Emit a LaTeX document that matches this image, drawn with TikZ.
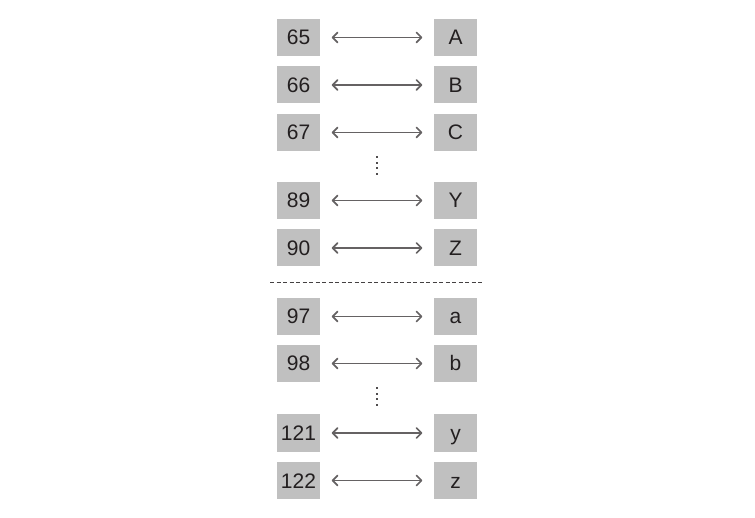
\documentclass[tikz,border=0pt]{standalone}
\usepackage{fontspec}
\setmainfont{Liberation Sans}
\usetikzlibrary{arrows.meta}
\definecolor{boxgray}{HTML}{C0C0C0}
\definecolor{ink}{HTML}{231F20}
\begin{document}
\begin{tikzpicture}[x=1pt,y=-1pt,
  cell/.style={fill=boxgray,draw=none,minimum width=43pt,minimum height=37pt,inner sep=0pt,
    text height=15pt,text depth=0pt,
    font=\fontsize{21}{21}\selectfont,text=ink},
  link/.style={draw=ink!70,line width=1.7pt,{Straight Barb[length=5pt,width=10pt,round]}-{Straight Barb[length=5pt,width=10pt,round]}},
  dotcol/.style={fill=ink!80}]
\useasboundingbox (0,0) rectangle (755,518);
\foreach \n/\l/\r/\y in {a/65/A/37.5, b/66/B/85, c/67/C/132.5, d/89/Y/200.5, e/90/Z/248,
    f/97/a/316.5, g/98/b/363.5, h/121/y/433, i/122/z/480.5}{
  \node[cell] (L\n) at (298.5,\y) {\l};
  \node[cell] (R\n) at (455.5,\y) {\r};
  \draw[link] ([xshift=11.5pt]L\n.east) -- ([xshift=-11.5pt]R\n.west);
}
\foreach \yy in {156.5,162,167.5,173}{\fill[dotcol] (376.2,\yy) rectangle (378.2,\yy+2);}
\foreach \yy in {387.5,393,398.5,404}{\fill[dotcol] (376.2,\yy) rectangle (378.2,\yy+2);}
\coordinate (dl) at (270,283);
\coordinate (dr) at (483,283);
\draw[ink!85,line width=1pt,dash pattern=on 4pt off 2.5pt] (dl) -- (dr);
\end{tikzpicture}
\end{document}
